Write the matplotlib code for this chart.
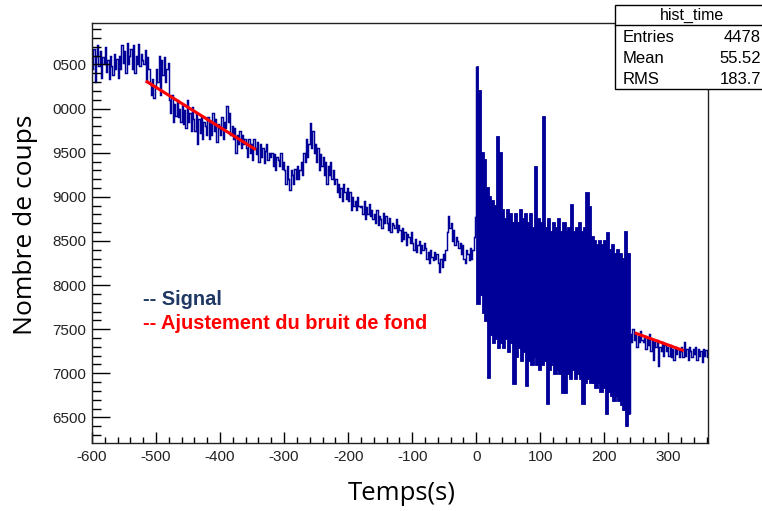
import numpy as np
import matplotlib
matplotlib.use("Agg")
import matplotlib.pyplot as plt
from matplotlib.patches import Rectangle
from matplotlib.ticker import FixedLocator, MultipleLocator

plt.rcParams["path.simplify"] = False
plt.rcParams["axes.unicode_minus"] = False

# counts per 2 s bin, -600 .. 0 s (one row = 20 s)
quiet_before = [
    10450, 10680, 10300, 10600, 10720, 10480, 10650, 10350, 10580, 10500,
    10700, 10420, 10550, 10330, 10600, 10480, 10380, 10620, 10450, 10560,
    10350, 10600, 10450, 10720, 10520, 10650, 10400, 10740, 10500, 10600,
    10680, 10450, 10720, 10400, 10600, 10500, 10730, 10480, 10620, 10550,
    10500, 10660, 10300, 10580, 10450, 10280, 10150, 10330, 10120, 10250,
    10450, 10300, 10600, 10150, 10550, 10380, 10580, 10300, 10450, 10520,
    10100, 9950, 10150, 9850, 10050, 9920, 10100, 9900, 10000, 9850,
    10050, 9820, 9980, 9780, 10100, 9850, 9950, 9750, 10020, 9880,
    9750, 9950, 9600, 9880, 9720, 9920, 9650, 9850, 9800, 9700,
    9900, 9650, 9850, 9700, 9950, 9750, 9880, 9620, 9820, 9780,
    9700, 9900, 9650, 9850, 9780, 10030, 9850, 9950, 9700, 9800,
    9650, 9780, 9500, 9700, 9600, 9750, 9550, 9700, 9600, 9650,
    9550, 9450, 9650, 9500, 9600, 9420, 9650, 9550, 9480, 9620,
    9400, 9600, 9450, 9550, 9380, 9520, 9600, 9420, 9500, 9450,
    9500, 9350, 9480, 9300, 9450, 9420, 9350, 9500, 9320, 9400,
    9300, 9150, 9350, 9200, 9080, 9300, 9250, 9150, 9320, 9200,
    9350, 9200, 9300, 9400, 9250, 9500, 9400, 9650, 9450, 9600,
    9840, 9550, 9750, 9500, 9600, 9400, 9550, 9300, 9480, 9350,
    9450, 9250, 9400, 9150, 9350, 9250, 9400, 9200, 9300, 9150,
    9200, 9050, 9150, 9000, 9100, 8950, 9150, 9050, 8980, 9100,
    8950, 9050, 8850, 9000, 8900, 8950, 8850, 9000, 8900, 8880,
    8900, 8800, 8950, 8750, 8880, 8800, 8920, 8780, 8850, 8750,
    8800, 8700, 8850, 8680, 8780, 8750, 8650, 8820, 8700, 8780,
    8700, 8620, 8760, 8600, 8700, 8680, 8650, 8750, 8600, 8680,
    8620, 8500, 8650, 8520, 8600, 8450, 8580, 8550, 8480, 8600,
    8480, 8400, 8520, 8380, 8450, 8500, 8360, 8450, 8400, 8480,
    8420, 8300, 8380, 8250, 8400, 8320, 8280, 8380, 8300, 8350,
    8250, 8150, 8300, 8200, 8350, 8280, 8400, 8600, 8780, 8650,
    8700, 8500, 8620, 8450, 8550, 8500, 8420, 8480, 8350, 8450,
    8300, 8250, 8400, 8350, 8280, 8420, 8300, 8400, 8550, 8770,
]

# counts per 2 s bin, 0 .. 240 s (signal burst)
burst = [
    10470, 7800, 10200, 7900, 9500, 7700, 9420, 7600, 9100, 6960,
    9000, 7450, 8950, 7350, 8900, 7400, 9680, 7300, 9500, 7350,
    8850, 7300, 8750, 7400, 8850, 7250, 8800, 7350, 8700, 6890,
    8800, 7200, 8700, 7300, 8850, 7150, 8750, 7250, 8800, 6865,
    8700, 7150, 8800, 7100, 8650, 7200, 9340, 7100, 8750, 7050,
    8700, 7100, 9900, 7150, 8650, 6660, 8750, 7050, 8600, 7100,
    8700, 7000, 8650, 7050, 8750, 7000, 8600, 6785, 8700, 6785,
    8600, 7000, 8650, 6950, 8910, 7050, 8600, 6950, 8650, 7000,
    8700, 6950, 8600, 6660, 8650, 6900, 9040, 6950, 8880, 6900,
    8550, 6900, 8500, 6850, 8450, 6900, 8500, 6800, 8450, 6850,
    8500, 6550, 8590, 6800, 8400, 6750, 8450, 6700, 8350, 6750,
    8400, 6700, 8350, 6650, 8300, 6600, 8600, 6410, 8350, 6550,
]

# counts per 2 s bin, 240 .. 364 s
quiet_after = [
    7450, 7350, 7500, 7380, 7450, 7300, 7420, 7350, 7480, 7380,
    7350, 7420, 7280, 7400, 7320, 7450, 7250, 7380, 7150, 7350,
    7300, 7380, 7080, 7300, 7250, 7350, 7200, 7320, 7250, 7300,
    7200, 7320, 7180, 7280, 7150, 7300, 7220, 7280, 7180, 7250,
    7300, 7180, 7350, 7200, 7280, 7150, 7300, 7250, 7180, 7280,
    7220, 7300, 7150, 7280, 7200, 7250, 7130, 7280, 7200, 7260,
    7180, 7250,
]

# background fits
fit1_x = [-514, -346]
fit1_y = [10304, 9543]
fit2_x = [250, 322]
fit2_y = [7452, 7262]

y_ticks = [6500, 7000, 7500, 8000, 8500, 9000, 9500, 10000, 10500]
y_labels = ["6500", "7000", "7500", "8000", "8500", "9000", "9500", "0000", "0500"]

edges = np.arange(-600, 365, 2)
burst_edges = np.arange(0, 241, 2)
counts = np.array(quiet_before + burst + quiet_after, dtype=float)

W, H = 762, 511
fig = plt.figure(figsize=(W / 100, H / 100), dpi=100)
ax = fig.add_axes([92 / W, 1 - 443 / H, 616 / W, 420 / H])

col = "#000099"
ax.stairs(counts, edges, baseline=None, color=col, lw=1.05)
# the burst is so dense that it reads as a solid band
ax.stairs(burst, burst_edges, baseline=None, color=col, lw=2.0)
ax.plot(fit1_x, fit1_y, color="red", lw=2.2)
ax.plot(fit2_x, fit2_y, color="red", lw=2.2)

ax.set_xlim(-600, 362)
ax.set_ylim(6210, 10970)

ax.xaxis.set_major_locator(MultipleLocator(100))
ax.xaxis.set_minor_locator(MultipleLocator(20))
ax.yaxis.set_major_locator(FixedLocator(y_ticks))
ax.set_yticklabels(y_labels)
ax.yaxis.set_minor_locator(MultipleLocator(100))

ax.tick_params(axis="x", which="major", direction="in", length=8, width=1, labelsize=11, pad=5)
ax.tick_params(axis="x", which="minor", direction="in", length=4.5, width=1)
ax.tick_params(axis="y", which="major", direction="in", length=13, width=1, labelsize=11, pad=4)
ax.tick_params(axis="y", which="minor", direction="in", length=6.5, width=1)
for lab in ax.get_xticklabels() + ax.get_yticklabels():
    lab.set_family("Liberation Sans")
    lab.set_color("#222222")
for s in ax.spines.values():
    s.set_linewidth(1.0)
    s.set_color("#222222")

fig.text(26 / W, 1 - 225 / H, "Nombre de coups", rotation=90, ha="center", va="center",
         fontsize=19, family="Open Sans")
fig.text(402 / W, 1 - 494 / H, "Temps(s)", ha="center", va="center",
         fontsize=18.5, family="Open Sans")

fig.text(143 / W, 1 - 299 / H, "-- Signal", color="#1F3864", weight="bold",
         fontsize=14.4, family="Liberation Sans", va="center")
fig.text(143 / W, 1 - 323 / H, "-- Ajustement du bruit de fond", color="red", weight="bold",
         fontsize=14.4, family="Liberation Sans", va="center")

# stats box
bx0, by0, by1 = 615 / W, 1 - 89 / H, 1 - 5 / H
fig.add_artist(Rectangle((bx0, by0), 160 / W, by1 - by0, transform=fig.transFigure,
                         facecolor="white", edgecolor="black", lw=1.0, clip_on=False))
fig.add_artist(plt.Line2D([bx0, 1.0], [1 - 25 / H] * 2, transform=fig.transFigure,
                          color="black", lw=1.0))
fig.text(692 / W, 1 - 15 / H, "hist_time", ha="center", va="center", fontsize=11.5,
         family="Liberation Sans")
for row, (name, val) in enumerate([("Entries", "4478"), ("Mean", "55.52"), ("RMS", "183.7")]):
    yy = 1 - (37 + row * 21.5) / H
    fig.text(623 / W, yy, name, ha="left", va="center", fontsize=12, family="Liberation Sans")
    fig.text(761 / W, yy, val, ha="right", va="center", fontsize=12, family="Liberation Sans")

fig.savefig("out.png", dpi=100)
